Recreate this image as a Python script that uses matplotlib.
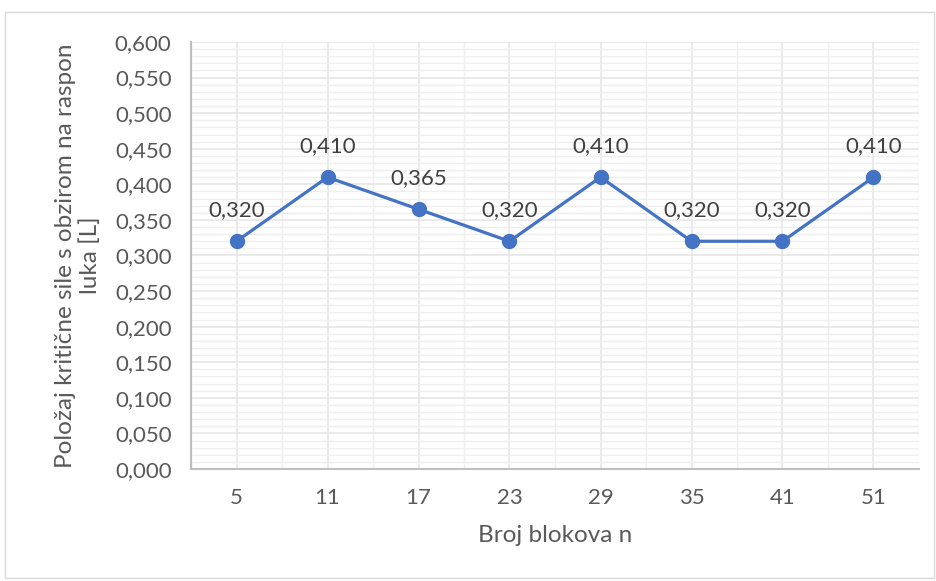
import matplotlib.pyplot as plt
from matplotlib.patches import FancyBboxPatch
from matplotlib.ticker import MultipleLocator
import numpy as np

categories = ["5", "11", "17", "23", "29", "35", "41", "51"]
values = [0.320, 0.410, 0.365, 0.320, 0.410, 0.320, 0.320, 0.410]

plt.rcParams['font.family'] = ['Lato', 'DejaVu Sans']
txt = '#595959'

fig = plt.figure(figsize=(9.37, 5.81), dpi=100)
ax = fig.add_axes([191/937, 1 - 469/581, (919 - 191)/937, (469 - 42)/581])

# outer chart border
fig.patches.append(FancyBboxPatch((5/937, 3/581), 929/937, 566/581,
                                  boxstyle="square,pad=0", transform=fig.transFigure,
                                  fill=False, edgecolor='#D9D9D9', linewidth=1))

x = np.arange(len(categories))
ax.plot(x, values, color='#4472C4', linewidth=2.3, marker='o', markersize=10, zorder=3)
for xi, v in zip(x, values):
    ax.annotate(f"{v:.3f}".replace('.', ','), (xi, v), xytext=(0, 15),
                textcoords='offset points', ha='center', va='bottom',
                fontsize=16, color='#404040')

ax.set_xlim(-0.5, len(categories) - 0.5)
ax.set_ylim(0, 0.6)
ax.set_xticks(x)
ax.set_xticklabels(categories)
ax.xaxis.set_minor_locator(MultipleLocator(0.5))
ax.yaxis.set_major_locator(MultipleLocator(0.05))
ax.yaxis.set_minor_locator(MultipleLocator(0.01))
ax.yaxis.set_major_formatter(plt.FuncFormatter(lambda v, p: f"{v:.3f}".replace('.', ',')))

ax.grid(which='major', color='#E6E6E6', linewidth=1.2)
ax.grid(which='minor', color='#EFEFEF', linewidth=1.0)
ax.set_axisbelow(True)

for s in ['top', 'right']:
    ax.spines[s].set_visible(False)
for s in ['left', 'bottom']:
    ax.spines[s].set_color('#BFBFBF')
    ax.spines[s].set_linewidth(1.5)

ax.tick_params(which='both', length=0, labelsize=16, labelcolor=txt)
ax.tick_params(axis='x', pad=14)
ax.tick_params(axis='y', pad=14)

ax.set_xlabel("Broj blokova n", fontsize=17.5, color=txt, labelpad=12)
ax.set_ylabel("Položaj kritične sile s obzirom na raspon\nluka [L]", fontsize=17.5,
              color=txt, labelpad=10)

fig.savefig("out.png", dpi=100)
